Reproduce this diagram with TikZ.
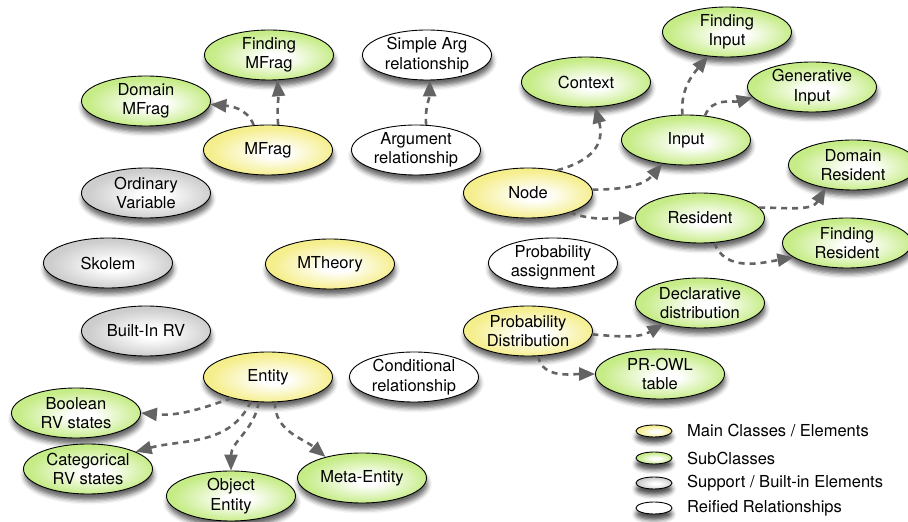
\documentclass[tikz,border=0pt]{standalone}
\usepackage{fontspec}
\setmainfont{TeX Gyre Heros}
\usepackage{tikz}
\usetikzlibrary{shapes.geometric}
\usetikzlibrary{arrows.meta}
\usetikzlibrary{shadows.blur}
\definecolor{mainfill}{RGB}{245,238,140}
\definecolor{subfill}{RGB}{198,236,135}
\definecolor{supfill}{RGB}{205,205,205}
\definecolor{arrowgray}{RGB}{100,100,100}
\pgfdeclareradialshading{mainshade}{\pgfpoint{3bp}{-3bp}}{color(0bp)=(white);color(5bp)=(white);color(24bp)=(mainfill);color(50bp)=(mainfill)}
\pgfdeclareradialshading{subshade}{\pgfpoint{3bp}{-3bp}}{color(0bp)=(white);color(5bp)=(white);color(24bp)=(subfill);color(50bp)=(subfill)}
\pgfdeclareradialshading{supshade}{\pgfpoint{3bp}{-3bp}}{color(0bp)=(white);color(5bp)=(white);color(24bp)=(supfill);color(50bp)=(supfill)}
\newcommand{\nodefont}{\fontsize{16.5}{19.5}\selectfont}

\begin{document}
\begin{tikzpicture}[x=1pt, y=1pt,
  cls/.style={ellipse, draw=black, line width=0.9pt, minimum width=129pt, minimum height=50pt,
    inner sep=-8pt, align=center, font=\nodefont,
    blur shadow={shadow xshift=1pt, shadow yshift=-6pt, shadow blur radius=4.5pt, shadow opacity=60}},
  main/.style={cls, shade, shading=mainshade},
  sub/.style={cls, shade, shading=subshade},
  sup/.style={cls, shade, shading=supshade},
  rei/.style={cls, fill=white},
  leg/.style={ellipse, draw=black, line width=0.9pt, minimum width=36pt, minimum height=12pt, inner sep=0pt,
    blur shadow={shadow xshift=0pt, shadow yshift=-6pt, shadow blur radius=4.5pt, shadow opacity=70}},
  legtext/.style={anchor=west, font=\nodefont, inner sep=0pt},
  dep/.style={arrowgray, line width=2.6pt, dash pattern=on 6pt off 5pt, -{Triangle[length=16pt,width=13pt]}}]

\useasboundingbox (0,0) rectangle (908,522);

\node[sub] (fmfrag) at (269,467) {Finding\\MFrag};
\node[sub] (dmfrag) at (146,421) {Domain\\MFrag};
\node[main] (mfrag) at (268,372) {MFrag};
\node[rei] (sarg) at (427,467) {Simple Arg\\relationship};
\node[rei] (arg) at (416,372) {Argument\\relationship};
\node[sup] (ordvar) at (146,329) {Ordinary\\Variable};
\node[sup] (skolem) at (108,259) {Skolem};
\node[main] (mtheory) at (330,258) {MTheory};
\node[sup] (builtin) at (146,191) {Built-In RV};
\node[main] (entity) at (268,145) {Entity};
\node[rei] (cond) at (414,145) {Conditional\\relationship};
\node[sub] (bool) at (76,109) {Boolean\\RV states};
\node[sub] (cat) at (88,53) {Categorical\\RV states};
\node[sub] (obj) at (231,26) {Object\\Entity};
\node[sub] (meta) at (362,44) {Meta-Entity};

\node[sub] (context) at (586,440) {Context};
\node[sub] (finput) at (727,490) {Finding\\Input};
\node[sub] (ginput) at (812,435) {Generative\\Input};
\node[sub] (input) at (686,382) {Input};
\node[main] (node) at (528,329) {Node};
\node[sub] (res) at (700,304) {Resident};
\node[sub] (dres) at (853,357) {Domain\\Resident};
\node[sub] (fres) at (847,279) {Finding\\Resident};
\node[rei] (passign) at (553,259) {Probability\\assignment};
\node[sub] (decl) at (700,219) {Declarative\\distribution};
\node[main] (pd) at (528,191) {Probability\\Distribution};
\node[sub] (prowl) at (660,148) {PR-OWL\\table};

\draw[dep] (mfrag.68) to[out=95,in=-85] (fmfrag.-72);
\draw[dep] (mfrag.120) to[out=110,in=-5] (dmfrag.-3);
\draw[dep] (arg.68) to[out=95,in=-90] (sarg.-84);
\draw[dep] (node.38) to[out=15,in=-75,looseness=1.3] (context.-70);
\draw[dep] (node.3) to[out=0,in=-130] (input.-135);
\draw[dep] (node.-25) to[out=-20,in=180] (res.west);
\draw[dep] (input.98) to[out=95,in=-130] (finput.-128);
\draw[dep] (input.52) to[out=70,in=195] (ginput.190);
\draw[dep] (res.10) to[out=0,in=-120] (dres.-140);
\draw[dep] (res.-60) to[out=-70,in=190] (fres.-165);
\draw[dep] (pd.-3) to[out=-5,in=-150] (decl.-150);
\draw[dep] (pd.-68) to[out=-80,in=180] (prowl.west);
\draw[dep] (entity.-150) to[out=-160,in=-5] (bool.east);
\draw[dep] (entity.-125) to[out=-115,in=15] (cat.20);
\draw[dep] (entity.-110) to[out=-100,in=90] (obj.north);
\draw[dep] (entity.-75) to[out=-90,in=140] (meta.150);

\node[leg, shade, shading=mainshade] (lmain) at (654,91) {};
\node[leg, shade, shading=subshade] (lsub) at (654,64) {};
\node[leg, shade, shading=supshade] (lsup) at (654,39) {};
\node[leg, fill=white] (lrei) at (654,14) {};
\node[legtext] (tmain) at (687,91) {Main Classes / Elements};
\node[legtext] (tsub) at (687,64) {SubClasses};
\node[legtext] (tsup) at (687,39) {Support / Built-in Elements};
\node[legtext] (trei) at (687,14) {Reified Relationships};

\end{tikzpicture}
\end{document}
